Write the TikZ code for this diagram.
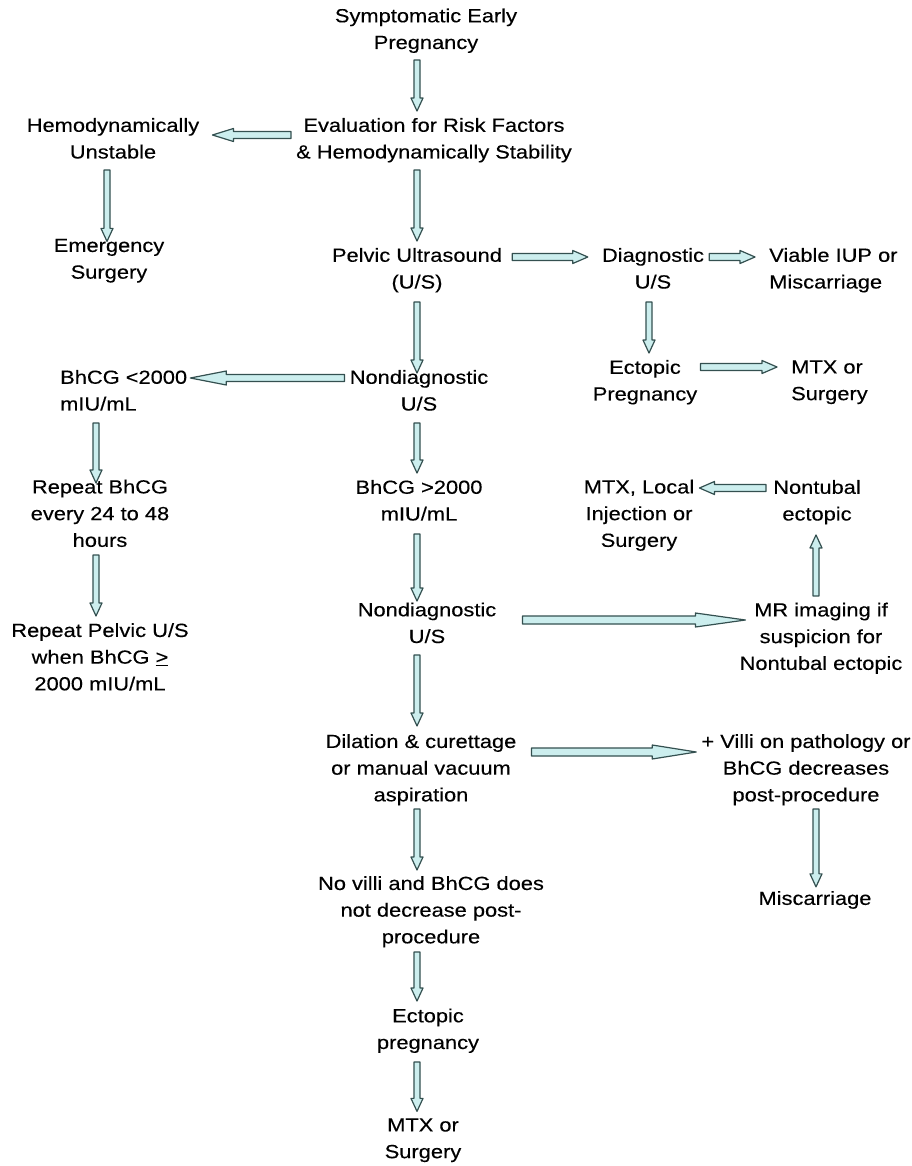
\documentclass[tikz,border=0pt]{standalone}
\usepackage{fontspec}
\setmainfont[FakeStretch=1.15,FakeBold=0.25]{Liberation Sans}
\usetikzlibrary{calc}
\definecolor{afill}{RGB}{204,238,238}
\definecolor{aline}{RGB}{52,80,80}
\newcommand{\lstrut}{\rule[-6.5pt]{0pt}{26.7pt}}
\pgfkeys{/ba/ga/.store in=\baGa, /ba/gb/.store in=\baGb, /ba/hl/.store in=\baHl,
  /ba/hw/.store in=\baHw, /ba/sw/.store in=\baSw}
\newcommand{\barrow}[3][]{%
  \begingroup
  \pgfkeys{/ba/.cd,ga=5pt,gb=5pt,hl=13pt,hw=6pt,sw=3pt,#1}%
  \path #2 coordinate (ba);
  \path #3 coordinate (bb);
  \path ($(ba)!\baGa!(bb)$) coordinate (bs);
  \path ($(bb)!\baGb!(ba)$) coordinate (be);
  \path ($(be)!\baHl!(bs)$) coordinate (bh);
  \filldraw[arrowshape] ($(bs)!\baSw!90:(be)$) -- ($(bh)!\baSw!-90:(bs)$)
    -- ($(bh)!\baHw!-90:(bs)$) -- (be) -- ($(bh)!\baHw!90:(bs)$)
    -- ($(bh)!\baSw!90:(bs)$) -- ($(bs)!\baSw!-90:(be)$) -- cycle;
  \endgroup}
\begin{document}
\begin{tikzpicture}[x=1pt,y=-1pt,
  lbl/.style={align=center, inner sep=0pt, font=\fontsize{19}{26.7}\selectfont,
    execute at begin node=\lstrut, execute at end node=\lstrut},
  lbll/.style={lbl, align=left, anchor=west},
  arrowshape/.style={fill=afill, draw=aline, line width=1.2pt, line join=round}]
\useasboundingbox[fill=white] (0,0) rectangle (911,1166);
\coordinate (cC) at (417,0);
\coordinate (cL) at (96,0);
\coordinate (cH) at (107,0);
\coordinate (cD) at (649,0);
\coordinate (cR) at (816,0);

\node[lbl] (sym) at (426,32) {Symptomatic Early\\Pregnancy};
\node[lbl] (eval) at (434,141.5) {Evaluation for Risk Factors\\\& Hemodynamically Stability};
\node[lbl] (hemo) at (113,141.5) {Hemodynamically\\Unstable};
\node[lbl] (emerg) at (109,262) {Emergency\\Surgery};
\node[lbl] (pelvic) at (417,271.5) {Pelvic Ultrasound\\(U/S)};
\node[lbl] (diag) at (653,271.5) {Diagnostic\\U/S};
\node[lbll] (viable) at (769,271.5) {Viable IUP or\\Miscarriage};
\node[lbl] (ect1) at (645,383.5) {Ectopic\\Pregnancy};
\node[lbll] (mtx1) at (791,383.5) {MTX or\\Surgery};
\node[lbll] (bhlow) at (60,393.5) {BhCG <2000\\mIU/mL};
\node[lbl] (nd1) at (419,393.5) {Nondiagnostic\\U/S};
\node[lbl] (rep) at (100,516.5) {Repeat BhCG\\every 24 to 48\\hours};
\node[lbl] (bhhigh) at (419,503.5) {BhCG >2000\\mIU/mL};
\node[lbl] (mtx2) at (639,516.5) {MTX, Local\\Injection or\\Surgery};
\node[lbl] (nontub) at (817,503.5) {Nontubal\\ectopic};
\node[lbl] (reppel) at (100,660) {Repeat Pelvic U/S\\when BhCG \underline{>}\\2000 mIU/mL};
\node[lbl] (nd2) at (427,626) {Nondiagnostic\\U/S};
\node[lbl] (mr) at (821,639.5) {MR imaging if\\suspicion for\\Nontubal ectopic};
\node[lbl] (dil) at (421,771) {Dilation \& curettage\\or manual vacuum\\aspiration};
\node[lbl] (villi) at (806,771) {+ Villi on pathology or\\BhCG decreases\\post-procedure};
\node[lbl] (misc) at (815,898) {Miscarriage};
\node[lbl] (novilli) at (431,913) {No villi and BhCG does\\not decrease post-\\procedure};
\node[lbl] (ect2) at (428,1032) {Ectopic\\pregnancy};
\node[lbl] (mtx3) at (423,1141.5) {MTX or\\Surgery};

\barrow[ga=4.3pt,gb=6.8pt]{(sym.south -| cC)}{(eval.north -| cC)}
\barrow[ga=5pt,gb=13pt,hl=21pt,hw=6.5pt,sw=3.5pt]{([yshift=6.5pt]eval.west)}{([yshift=6.5pt]hemo.east)}
\barrow[ga=4.8pt,gb=-2.7pt]{(hemo.south -| cH)}{(emerg.north -| cH)}
\barrow[ga=4.8pt,gb=6.8pt]{(eval.south -| cC)}{(pelvic.north -| cC)}
\barrow[ga=10pt,gb=14pt,hl=15pt,hw=6.5pt,sw=3.5pt]{([yshift=14.5pt]pelvic.east)}{([yshift=14.5pt]diag.west)}
\barrow[ga=5pt,gb=14pt,hl=15pt,hw=6.5pt,sw=3.5pt]{([yshift=14.5pt]diag.east)}{([yshift=14.5pt]viable.west)}
\barrow[ga=6.8pt,gb=6.8pt]{(diag.south -| cD)}{(ect1.north -| cD)}
\barrow[ga=3pt,gb=14pt,hl=15pt,hw=6.5pt,sw=3.5pt]{([yshift=16.5pt]ect1.east)}{([yshift=16.5pt]mtx1.west)}
\barrow[ga=6.8pt,gb=-3.2pt]{(pelvic.south -| cC)}{(nd1.north -| cC)}
\barrow[ga=5pt,gb=3pt,hl=36pt,hw=7pt,sw=3.5pt]{([yshift=15.5pt]nd1.west)}{([yshift=15.5pt]bhlow.east)}
\barrow[ga=5.8pt,gb=-3.5pt]{(bhlow.south -| cL)}{(rep.north -| cL)}
\barrow[ga=1.5pt,gb=7pt]{(rep.south -| cL)}{(reppel.north -| cL)}
\barrow[ga=5.8pt,gb=6.8pt]{(nd1.south -| cC)}{(bhhigh.north -| cC)}
\barrow[ga=6.8pt,gb=1.3pt]{(bhhigh.south -| cC)}{(nd2.north -| cC)}
\barrow[ga=26pt,gb=-6pt,hl=50pt,hw=7pt,sw=4pt]{([yshift=6pt]nd2.east)}{(mr.west |- ba)}
\barrow[ga=6.5pt,gb=7.8pt]{(mr.north -| cR)}{(nontub.south -| cR)}
\barrow[ga=7pt,gb=5pt,hl=15pt,hw=6.5pt,sw=3.5pt]{([yshift=15.5pt]nontub.west)}{(mtx2.east |- ba)}
\barrow[ga=5.3pt,gb=8pt]{(nd2.south -| cC)}{(dil.north -| cC)}
\barrow[ga=15pt,gb=5pt,hl=44pt,hw=7pt,sw=4pt]{([yshift=19pt]dil.east)}{([yshift=19pt]villi.west)}
\barrow[ga=1pt,gb=-2.4pt]{(villi.south -| cR)}{(misc.north -| cR)}
\barrow[ga=1pt,gb=6pt]{(dil.south -| cC)}{(novilli.north -| cC)}
\barrow[ga=2pt,gb=7.3pt]{(novilli.south -| cC)}{(ect2.north -| cC)}
\barrow[ga=6.3pt,gb=6.8pt]{(ect2.south -| cC)}{(mtx3.north -| cC)}
\end{tikzpicture}
\end{document}
